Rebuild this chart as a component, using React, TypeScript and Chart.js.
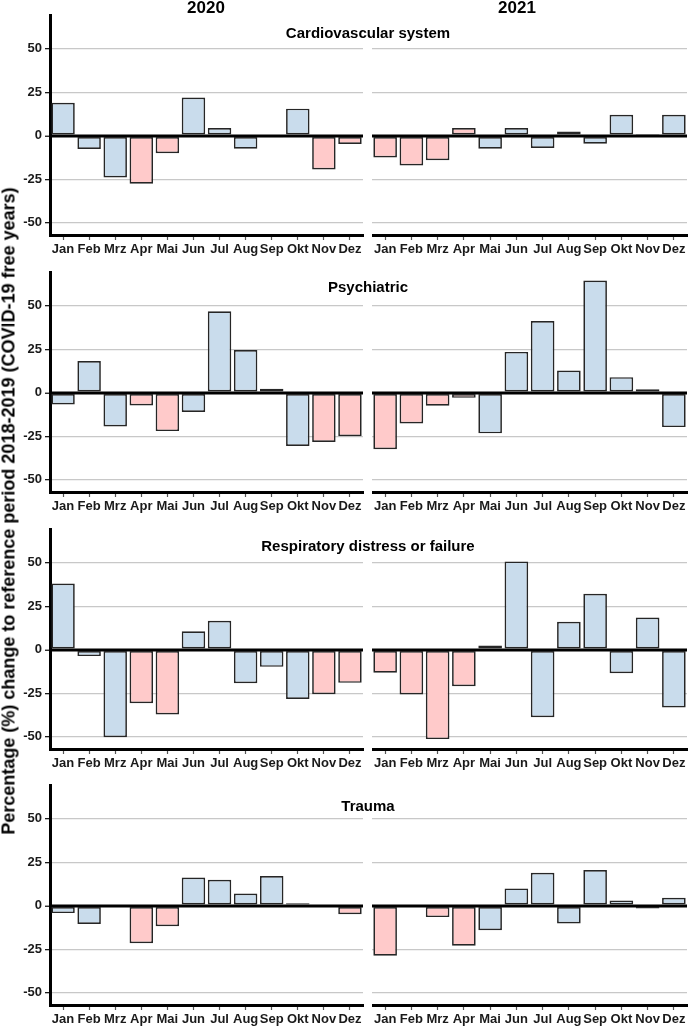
import React, { useEffect, useRef } from "react";
import { Chart, registerables } from "chart.js";
Chart.register(...registerables);

// ---------- data ----------
const months = ["Jan", "Feb", "Mrz", "Apr", "Mai", "Jun", "Jul", "Aug", "Sep", "Okt", "Nov", "Dez"];
const years = ["2020", "2021"];
const categories = ["Cardiovascular system", "Psychiatric", "Respiratory distress or failure", "Trauma"];
const yAxisTitle = "Percentage (%) change to reference period 2018-2019 (COVID-19 free years)";

const lockdown2020 = [false, false, false, true, true, false, false, false, false, false, true, true];
const lockdown2021 = [true, true, true, true, false, false, false, false, false, false, false, false];

const cardio2020 = [19, -7.6, -24, -27.5, -10, 22, 4.5, -7.4, -0.8, 15.6, -19.3, -4.7];
const cardio2021 = [-12.5, -17, -14, 4.5, -7.4, 4.5, -7, 2.5, -4.5, 12.1, 0.3, 12.1];
const psych2020 = [-6.7, 18.3, -19.3, -7.3, -22, -11, 46.8, 24.6, 2.3, -30.5, -28.2, -25];
const psych2021 = [-32.4, -17.6, -7.4, -2.9, -23.3, 23.5, 41.2, 12.8, 64.5, 9, 2.1, -19.7];
const resp2020 = [38.1, -3.6, -50.2, -30.7, -37.2, 10.7, 16.7, -19.2, -9.8, -28.2, -25.5, -19];
const resp2021 = [-13.2, -25.7, -51.3, -20.9, 2.5, 50.8, -38.7, 16.1, 32.2, -13.4, 18.6, -33.1];
const trauma2020 = [-4.2, -10.4, 0, -21.5, -11.7, 16.3, 15, 7.1, 17.1, 1.5, -0.3, -4.8];
const trauma2021 = [-28.7, 0, -6.5, -22.9, -14, 10, 19, -10.2, 20.6, 3.1, -1.5, 4.6];

const yTicks = [-50, -25, 0, 25, 50];
const yMin = -57;
const yMax = 70;

// ---------- style / layout ----------
const BLUE = "#c9dcec";
const PINK = "#ffcaca";
const FONT = "'Liberation Sans', Arial, Helvetica, sans-serif";
const rowTops = [14, 271, 528, 784];
const titleY = [32, 286, 545, 805];
const plotH = 221;
const xAxisH = 22;

const zeroLine = {
  id: "zeroLine",
  afterDatasetsDraw(chart: any) {
    const { ctx, chartArea, scales } = chart;
    const y = scales.y.getPixelForValue(0);
    ctx.save();
    ctx.strokeStyle = "#000";
    ctx.lineWidth = 2.6;
    ctx.beginPath();
    ctx.moveTo(chartArea.left, y);
    ctx.lineTo(chartArea.right, y);
    ctx.stroke();
    ctx.restore();
  },
};

type PanelProps = {
  values: number[];
  lockdown: boolean[];
  showY: boolean;
  left: number;
  top: number;
  width: number;
};

function Panel({ values, lockdown, showY, left, top, width }: PanelProps) {
  const ref = useRef<HTMLCanvasElement | null>(null);
  const height = plotH + xAxisH;
  useEffect(() => {
    if (!ref.current) return;
    const yW = showY ? 50 : 0;
    const font = { family: FONT, size: 13, weight: "bold" as const };
    const chart = new Chart(ref.current, {
      type: "bar",
      data: {
        labels: months,
        datasets: [
          {
            data: values,
            backgroundColor: lockdown.map((l) => (l ? PINK : BLUE)),
            borderColor: "#262626",
            borderWidth: 1.7,
            borderSkipped: false,
            categoryPercentage: 0.9,
            barPercentage: 1.0,
          },
        ],
      },
      options: {
        animation: false,
        responsive: false,
        maintainAspectRatio: false,
        layout: { padding: { top: 0, left: 0, right: 2, bottom: 0 } },
        plugins: {
          legend: { display: false },
          tooltip: { enabled: false },
          title: { display: false },
        },
        scales: {
          x: {
            type: "category",
            offset: true,
            grid: {
              display: true,
              offset: false,
              drawOnChartArea: false,
              drawTicks: true,
              tickLength: 5,
              tickColor: "#555555",
              tickWidth: 1.2,
            },
            border: { display: true, color: "#000", width: 3 },
            ticks: { font, color: "#1a1a1a", padding: 2, maxRotation: 0, autoSkip: false },
            afterFit: (s: any) => {
              s.height = xAxisH;
              s.paddingLeft = 0;
              s.paddingRight = 0;
            },
          },
          y: {
            min: yMin,
            max: yMax,
            afterBuildTicks: (s: any) => {
              s.ticks = yTicks.map((v) => ({ value: v }));
            },
            grid: {
              color: (ctx: any) => (ctx.tick && ctx.tick.value === 0 ? "#000" : "#c8c8c8"),
              lineWidth: (ctx: any) => (ctx.tick && ctx.tick.value === 0 ? 2.5 : 1.3),
              drawTicks: showY,
              tickLength: 5,
              tickColor: "#1a1a1a",
              tickWidth: 1.3,
            },
            border: { display: showY, color: "#000", width: 3 },
            ticks: { display: showY, font, color: "#1a1a1a", padding: 3 },
            afterFit: (s: any) => {
              s.width = yW;
              s.paddingTop = 0;
              s.paddingBottom = 0;
            },
          },
        },
      },
      plugins: [zeroLine],
    });
    return () => chart.destroy();
  }, [values, lockdown, showY]);
  return (
    <canvas
      ref={ref}
      width={width}
      height={height}
      style={{ position: "absolute", left, top, width, height }}
    />
  );
}

const rows = [
  [cardio2020, cardio2021],
  [psych2020, psych2021],
  [resp2020, resp2021],
  [trauma2020, trauma2021],
];

const textBase: React.CSSProperties = {
  position: "absolute",
  transform: "translate(-50%, -50%)",
  whiteSpace: "nowrap",
  fontFamily: FONT,
  fontWeight: "bold",
  color: "#000",
  zIndex: 2,
};

export default function App() {
  return (
    <div
      style={{
        position: "absolute",
        left: 0,
        top: 0,
        width: 689,
        height: 1026,
        background: "#fff",
        overflow: "hidden",
      }}
    >
      {rows.map((r, i) => (
        <React.Fragment key={i}>
          <Panel values={r[0]} lockdown={lockdown2020} showY={true} left={0} top={rowTops[i]} width={365} />
          <Panel values={r[1]} lockdown={lockdown2021} showY={false} left={372} top={rowTops[i]} width={317} />
          <div style={{ ...textBase, left: 368, top: titleY[i], fontSize: 15 }}>{categories[i]}</div>
        </React.Fragment>
      ))}
      <div style={{ ...textBase, left: 206, top: 8, fontSize: 17 }}>{years[0]}</div>
      <div style={{ ...textBase, left: 517, top: 8, fontSize: 17 }}>{years[1]}</div>
      <div
        style={{
          ...textBase,
          left: 9,
          top: 511,
          fontSize: 18,
          transform: "translate(-50%, -50%) rotate(-90deg)",
        }}
      >
        {yAxisTitle}
      </div>
    </div>
  );
}
